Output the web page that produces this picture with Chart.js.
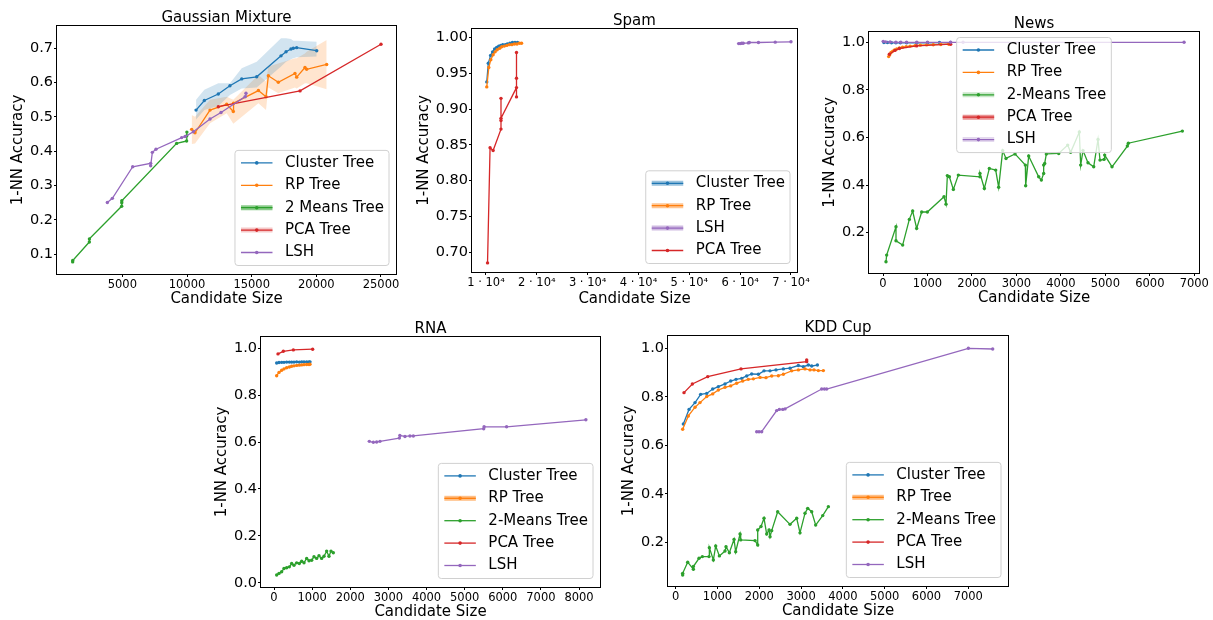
<!DOCTYPE html>
<html>
<head>
<meta charset="utf-8">
<title>1-NN accuracy vs candidate size</title>
<script src="https://cdn.jsdelivr.net/npm/chart.js@4.4.1/dist/chart.umd.min.js"></script>
<style>
  html, body { margin: 0; padding: 0; background: #fff; overflow: hidden; }
  #fig { position: relative; width: 1213px; height: 620px; }
  #fig canvas { position: absolute; }
</style>
</head>
<body>
<div id="fig"></div>
<script>
// ---- values ----

// Gaussian Mixture
const gmCluster = [[10700,0.520],[11340,0.548],[12420,0.567],[13320,0.591],[14230,0.611],[15390,0.617],[17270,0.678],[17660,0.690],[18040,0.698],[18220,0.700],[18480,0.702],[20030,0.693]];
const gmClusterHi = [[10700,0.550],[11340,0.579],[12420,0.598],[13320,0.598],[14230,0.642],[15390,0.661],[17270,0.729],[17660,0.729],[18040,0.727],[18220,0.722],[18480,0.722],[20030,0.719]];
const gmClusterLo = [[10700,0.493],[11340,0.520],[12420,0.532],[13320,0.564],[14230,0.583],[15390,0.586],[17270,0.647],[17660,0.661],[18040,0.668],[18220,0.671],[18480,0.674],[20030,0.676]];
const gmRP = [[10360,0.464],[10620,0.454],[11780,0.520],[13070,0.537],[13580,0.516],[13600,0.540],[15520,0.577],[16110,0.559],[16290,0.620],[17060,0.601],[18350,0.627],[18480,0.616],[19120,0.644],[19250,0.639],[20800,0.653]];
const gmRPHi = [[10360,0.506],[10620,0.501],[11780,0.550],[13070,0.559],[13580,0.550],[15520,0.622],[16110,0.603],[16290,0.647],[17060,0.656],[18350,0.671],[18480,0.671],[19120,0.685],[19250,0.690],[20800,0.724]];
const gmRPLo = [[10360,0.421],[10620,0.423],[11780,0.482],[13070,0.511],[13580,0.480],[15520,0.540],[16110,0.520],[16290,0.586],[17060,0.569],[18350,0.586],[18480,0.583],[19120,0.598],[19250,0.598],[20800,0.581]];
const gmTwoMeans = [[1160,0.078],[1165,0.082],[2450,0.136],[2455,0.145],[4950,0.240],[4955,0.250],[4960,0.256],[9200,0.423],[9970,0.430],[9980,0.445],[9990,0.456]];
const gmPCA = [[12420,0.530],[18740,0.576],[25000,0.712]];
const gmLSH = [[3840,0.251],[4230,0.263],[5800,0.355],[7190,0.365],[7190,0.358],[7320,0.397],[7600,0.406],[9590,0.440],[9850,0.443],[10490,0.457],[11780,0.494],[12630,0.513],[14490,0.559],[14560,0.569]];
const gmXTicks = [5000, 10000, 15000, 20000, 25000];
const gmXLabels = ['5000', '10000', '15000', '20000', '25000'];
const gmYTicks = [0.1, 0.2, 0.3, 0.4, 0.5, 0.6, 0.7];
const gmYLabels = ['0.1', '0.2', '0.3', '0.4', '0.5', '0.6', '0.7'];

// Spam
const spamCluster = [[10150,0.938],[10450,0.964],[10900,0.975],[11300,0.980],[11700,0.984],[12100,0.986],[12500,0.988],[12900,0.989],[13300,0.990],[13800,0.990],[14200,0.991],[14700,0.992],[15200,0.993],[15700,0.993],[16200,0.993]];
const spamRP = [[10150,0.931],[10550,0.958],[10950,0.969],[11400,0.976],[11800,0.980],[12200,0.983],[12700,0.985],[13100,0.987],[13600,0.988],[14100,0.989],[14600,0.990],[15100,0.990],[15600,0.991],[16100,0.991],[16600,0.992],[17000,0.992]];
const spamLSH = [[59700,0.9915],[60000,0.9915],[60300,0.992],[60600,0.992],[61600,0.9925],[61800,0.993],[63600,0.993],[66900,0.9935],[70000,0.994]];
const spamPCA = [[10300,0.685],[10800,0.846],[11400,0.842],[12950,0.872],[12950,0.884],[12950,0.915],[12950,0.887],[16000,0.930],[16000,0.917],[16000,0.943],[16000,0.979]];
const spamXTicks = [10000, 20000, 30000, 40000, 50000, 60000, 70000];
const spamXLabels = ['1 · 10⁴', '2 · 10⁴', '3 · 10⁴', '4 · 10⁴', '5 · 10⁴', '6 · 10⁴', '7 · 10⁴'];
const spamYTicks = [0.70, 0.75, 0.80, 0.85, 0.90, 0.95, 1.00];
const spamYLabels = ['0.70', '0.75', '0.80', '0.85', '0.90', '0.95', '1.00'];

// News
const newsCluster = [[20,0.999],[100,0.999],[190,0.998],[290,0.998],[390,0.998],[530,0.998],[760,0.998],[1000,0.998],[1270,0.999],[1520,0.999]];
const newsRP = [[127,0.940],[150,0.948],[180,0.957],[220,0.963],[260,0.968],[310,0.972],[370,0.976],[440,0.979],[520,0.982],[610,0.984],[720,0.986],[840,0.988],[980,0.989],[1130,0.990],[1300,0.991],[1480,0.992]];
const newsTwoMeans = [[67,0.078],[82,0.106],[292,0.225],[292,0.166],[442,0.148],[592,0.256],[667,0.291],[757,0.218],[870,0.287],[997,0.287],[1372,0.351],[1417,0.320],[1447,0.440],[1492,0.435],[1582,0.382],[1694,0.442],[2181,0.435],[2181,0.449],[2279,0.386],[2391,0.470],[2534,0.463],[2601,0.391],[2691,0.545],[2766,0.512],[2969,0.531],[3201,0.484],[3208,0.397],[3276,0.522],[3501,0.435],[3561,0.421],[3613,0.449],[3613,0.484],[3636,0.491],[3673,0.531],[3951,0.533],[4153,0.568],[4220,0.538],[4415,0.623],[4445,0.484],[4498,0.545],[4610,0.494],[4738,0.477],[4835,0.592],[4880,0.505],[4970,0.508],[4985,0.526],[5150,0.477],[5495,0.564],[5517,0.576],[6732,0.627]];
const newsPCA = [[142,0.950],[270,0.966],[367,0.974],[757,0.985],[1522,0.992]];
const newsLSH = [[5,1.004],[60,1.002],[160,1.001],[290,1.000],[400,1.000],[530,1.000],[760,1.000],[1000,1.000],[1520,1.000],[1800,1.000],[6770,1.000]];
const newsXTicks = [0, 1000, 2000, 3000, 4000, 5000, 6000, 7000];
const newsXLabels = ['0', '1000', '2000', '3000', '4000', '5000', '6000', '7000'];
const newsYTicks = [0.2, 0.4, 0.6, 0.8, 1.0];
const newsYLabels = ['0.2', '0.4', '0.6', '0.8', '1.0'];

// RNA
const rnaCluster = [[70,0.937],[131,0.939],[201,0.940],[262,0.940],[332,0.941],[402,0.941],[463,0.941],[524,0.941],[594,0.942],[664,0.941],[726,0.942],[787,0.942],[857,0.942],[918,0.942],[944,0.942]];
const rnaRP = [[70,0.883],[131,0.897],[201,0.906],[262,0.912],[332,0.917],[402,0.920],[463,0.923],[524,0.925],[594,0.927],[664,0.928],[726,0.929],[787,0.930],[857,0.931],[918,0.931],[944,0.932]];
const rnaTwoMeans = [[70,0.033],[131,0.040],[201,0.047],[262,0.061],[332,0.064],[402,0.068],[463,0.082],[524,0.075],[594,0.085],[664,0.082],[726,0.092],[787,0.085],[857,0.104],[918,0.094],[988,0.096],[1049,0.111],[1119,0.104],[1180,0.115],[1250,0.104],[1311,0.113],[1381,0.135],[1442,0.113],[1495,0.135],[1556,0.128]];
const rnaPCA = [[105,0.976],[245,0.987],[507,0.993],[1014,0.996]];
const rnaLSH = [[2500,0.603],[2605,0.599],[2692,0.600],[2780,0.603],[3287,0.617],[3300,0.628],[3435,0.624],[3566,0.626],[3654,0.626],[5500,0.657],[5510,0.665],[6100,0.665],[8180,0.695]];
const rnaXTicks = [0, 1000, 2000, 3000, 4000, 5000, 6000, 7000, 8000];
const rnaXLabels = ['0', '1000', '2000', '3000', '4000', '5000', '6000', '7000', '8000'];
const rnaYTicks = [0.0, 0.2, 0.4, 0.6, 0.8, 1.0];
const rnaYLabels = ['0.0', '0.2', '0.4', '0.6', '0.8', '1.0'];

// KDD Cup
const kddCluster = [[183,0.688],[319,0.748],[463,0.776],[598,0.810],[742,0.814],[885,0.832],[1021,0.842],[1180,0.853],[1316,0.865],[1443,0.872],[1579,0.876],[1699,0.886],[1818,0.894],[1978,0.893],[2113,0.907],[2257,0.907],[2400,0.911],[2576,0.915],[2735,0.918],[2935,0.929],[3054,0.924],[3174,0.931],[3254,0.927],[3390,0.931]];
const kddRP = [[167,0.666],[303,0.721],[463,0.757],[582,0.776],[742,0.801],[885,0.812],[1021,0.828],[1180,0.839],[1316,0.845],[1459,0.856],[1603,0.865],[1738,0.872],[1858,0.874],[2018,0.880],[2161,0.879],[2297,0.886],[2456,0.887],[2576,0.893],[2775,0.907],[2935,0.911],[3094,0.915],[3214,0.911],[3309,0.911],[3413,0.908],[3533,0.908]];
const kddTwoMeans = [[167,0.065],[167,0.072],[287,0.118],[423,0.089],[423,0.100],[558,0.134],[638,0.141],[797,0.141],[805,0.178],[901,0.127],[957,0.185],[1045,0.144],[1180,0.164],[1204,0.182],[1284,0.157],[1396,0.212],[1435,0.161],[1539,0.234],[1555,0.210],[1898,0.207],[1962,0.189],[1962,0.251],[2041,0.265],[2113,0.299],[2177,0.234],[2233,0.251],[2257,0.223],[2297,0.248],[2440,0.326],[2735,0.274],[2895,0.299],[2974,0.239],[3094,0.320],[3158,0.340],[3254,0.326],[3349,0.271],[3517,0.310],[3652,0.347]];
const kddPCA = [[199,0.817],[399,0.853],[766,0.883],[1563,0.915],[3134,0.945],[3134,0.952]];
const kddLSH = [[1938,0.656],[1994,0.656],[2057,0.656],[2416,0.743],[2480,0.748],[2560,0.748],[2616,0.750],[3493,0.832],[3557,0.832],[3612,0.832],[7002,1.000],[7584,0.997]];
const kddXTicks = [0, 1000, 2000, 3000, 4000, 5000, 6000, 7000];
const kddXLabels = ['0', '1000', '2000', '3000', '4000', '5000', '6000', '7000'];
const kddYTicks = [0.2, 0.4, 0.6, 0.8, 1.0];
const kddYLabels = ['0.2', '0.4', '0.6', '0.8', '1.0'];

// ---- drawing ----
const BLUE = '#1f77b4', ORANGE = '#ff7f0e', GREEN = '#2ca02c', RED = '#d62728', PURPLE = '#9467bd';
const FONT = "'DejaVu Sans', sans-serif";
const YW = 60, PT = 26, XH = 48, PR = 30;

Chart.defaults.font.family = FONT;
Chart.defaults.color = '#000';

function rgba(hex, a) {
  const n = parseInt(hex.slice(1), 16);
  return `rgba(${n >> 16}, ${(n >> 8) & 255}, ${n & 255}, ${a})`;
}

// frame, title and boxed legend like matplotlib
function panelPlugin(p) {
  return {
    id: 'panelDeco',
    afterDatasetsDraw(chart) {
      const { ctx, chartArea: ca } = chart;
      ctx.save();
      ctx.strokeStyle = '#000';
      ctx.lineWidth = 1;
      ctx.strokeRect(Math.round(ca.left) - 0.5, Math.round(ca.top) - 0.5,
        Math.round(ca.right - ca.left) + 1, Math.round(ca.bottom - ca.top) + 1);
      ctx.restore();
    },
    afterDraw(chart) {
      const { ctx, chartArea: ca } = chart;
      ctx.save();
      // title
      ctx.font = `15px ${FONT}`;
      ctx.fillStyle = '#000';
      ctx.textAlign = 'center';
      ctx.textBaseline = 'alphabetic';
      ctx.fillText(p.title, (ca.left + ca.right) / 2, ca.top - 4.5);

      // legend
      const items = p.series;
      const tw = Math.max(...items.map(s => ctx.measureText(s.label).width));
      const w = 6 + 31.5 + 12.5 + tw + 5;
      const h = 12.5 + (items.length - 1) * 22.4 + 13;
      let x, y;
      if (p.legendLoc === 'upper center') {
        x = (ca.left + ca.right) / 2 - w / 2;
        y = ca.top + 5.5;
      } else {
        x = ca.right - 7 - w;
        y = ca.bottom - 8.5 - h;
      }
      const r = 3;
      ctx.beginPath();
      ctx.moveTo(x + r, y);
      ctx.lineTo(x + w - r, y);
      ctx.arcTo(x + w, y, x + w, y + r, r);
      ctx.lineTo(x + w, y + h - r);
      ctx.arcTo(x + w, y + h, x + w - r, y + h, r);
      ctx.lineTo(x + r, y + h);
      ctx.arcTo(x, y + h, x, y + h - r, r);
      ctx.lineTo(x, y + r);
      ctx.arcTo(x, y, x + r, y, r);
      ctx.closePath();
      ctx.fillStyle = 'rgba(255,255,255,0.8)';
      ctx.fill();
      ctx.strokeStyle = '#d0d0d0';
      ctx.lineWidth = 1;
      ctx.stroke();

      items.forEach((s, i) => {
        const yy = y + 12.5 + i * 22.4;
        const x0 = x + 6, x1 = x + 37.5;
        if (s.halo) {
          ctx.strokeStyle = rgba(s.color, s.halo);
          ctx.lineWidth = 5;
          ctx.beginPath(); ctx.moveTo(x0, yy); ctx.lineTo(x1, yy); ctx.stroke();
        }
        ctx.strokeStyle = s.color;
        ctx.lineWidth = 1.3;
        ctx.beginPath(); ctx.moveTo(x0, yy); ctx.lineTo(x1, yy); ctx.stroke();
        ctx.fillStyle = s.color;
        ctx.beginPath(); ctx.arc((x0 + x1) / 2, yy, 1.8, 0, Math.PI * 2); ctx.fill();
        ctx.fillStyle = '#000';
        ctx.textAlign = 'left';
        ctx.textBaseline = 'middle';
        ctx.fillText(s.label, x + 50, yy);
      });
      ctx.restore();
    }
  };
}

function buildPanel(p) {
  const [L, T, R, B] = p.box;
  const w = (R - L) + YW + PR;
  const h = (B - T) + PT + XH;
  const cv = document.createElement('canvas');
  cv.width = w; cv.height = h;
  cv.style.left = (L - YW) + 'px';
  cv.style.top = (T - PT) + 'px';
  cv.style.width = w + 'px';
  cv.style.height = h + 'px';
  document.getElementById('fig').appendChild(cv);

  const datasets = [];
  (p.bands || []).forEach(b => {
    datasets.push({ data: b.hi, borderColor: 'rgba(0,0,0,0)', borderWidth: 0, pointRadius: 0,
      backgroundColor: rgba(b.color, 0.2), fill: '+1', order: 40 });
    datasets.push({ data: b.lo, borderColor: 'rgba(0,0,0,0)', borderWidth: 0, pointRadius: 0,
      fill: false, order: 40 });
  });
  p.series.forEach((s, i) => {
    datasets.push({
      label: s.label, data: s.data,
      borderColor: s.color, backgroundColor: s.color, borderWidth: 1.3,
      pointRadius: 1.7, pointHoverRadius: 1.7, pointBorderWidth: 0,
      pointBackgroundColor: s.color, pointBorderColor: s.color,
      fill: false, tension: 0, order: 20 - i
    });
  });

  new Chart(cv, {
    type: 'line',
    data: { datasets },
    options: {
      responsive: false,
      animation: false,
      events: [],
      devicePixelRatio: 1,
      layout: { padding: { top: PT, right: PR, left: 0, bottom: 0 } },
      plugins: { legend: { display: false }, tooltip: { enabled: false } },
      scales: {
        x: {
          type: 'linear', min: p.xRange[0], max: p.xRange[1],
          afterBuildTicks: sc => { sc.ticks = p.xTicks.map(v => ({ value: v })); },
          afterFit: sc => { sc.height = XH; },
          ticks: { autoSkip: false, maxRotation: 0, color: '#000', font: { size: 11.5 }, padding: 1,
            callback: (v, i) => p.xLabels[i] },
          grid: { drawOnChartArea: false, drawTicks: true, tickLength: 3, tickColor: '#000', tickWidth: 1 },
          border: { display: false },
          title: { display: true, text: 'Candidate Size', color: '#000', font: { size: 15 },
            padding: { top: 0, bottom: p.xtPad } }
        },
        y: {
          type: 'linear', min: p.yRange[0], max: p.yRange[1],
          afterBuildTicks: sc => { sc.ticks = p.yTicks.map(v => ({ value: v })); },
          afterFit: sc => { sc.width = YW; },
          ticks: { autoSkip: false, color: '#000', font: { size: 14.5 }, padding: 1,
            callback: (v, i) => p.yLabels[i] },
          grid: { drawOnChartArea: false, drawTicks: true, tickLength: 3, tickColor: '#000', tickWidth: 1 },
          border: { display: false },
          title: { display: true, text: '1-NN Accuracy', color: '#000', font: { size: 15 },
            padding: { top: p.ytPad, bottom: 0 } }
        }
      }
    },
    plugins: [panelPlugin(p)]
  });
}

const panels = [
  {
    title: 'Gaussian Mixture', box: [57, 26, 396, 274],
    xRange: [-52, 26160], yRange: [0.0427, 0.765],
    xTicks: gmXTicks, xLabels: gmXLabels, yTicks: gmYTicks, yLabels: gmYLabels,
    xtPad: 14, ytPad: 12, legendLoc: 'lower right',
    bands: [{ hi: gmClusterHi, lo: gmClusterLo, color: BLUE }, { hi: gmRPHi, lo: gmRPLo, color: ORANGE }],
    series: [
      { label: 'Cluster Tree', color: BLUE, data: gmCluster },
      { label: 'RP Tree', color: ORANGE, data: gmRP },
      { label: '2 Means Tree', color: GREEN, data: gmTwoMeans, halo: 0.55 },
      { label: 'PCA Tree', color: RED, data: gmPCA, halo: 0.25 },
      { label: 'LSH', color: PURPLE, data: gmLSH }
    ]
  },
  {
    title: 'Spam', box: [472, 29, 797, 272],
    xRange: [7246, 71184], yRange: [0.6723, 1.0119],
    xTicks: spamXTicks, xLabels: spamXLabels, yTicks: spamYTicks, yLabels: spamYLabels,
    xtPad: 12, ytPad: 3.5, legendLoc: 'lower right',
    series: [
      { label: 'Cluster Tree', color: BLUE, data: spamCluster, halo: 0.45 },
      { label: 'RP Tree', color: ORANGE, data: spamRP, halo: 0.45 },
      { label: 'LSH', color: PURPLE, data: spamLSH, halo: 0.45 },
      { label: 'PCA Tree', color: RED, data: spamPCA }
    ]
  },
  {
    title: 'News', box: [869, 32, 1199, 273],
    xRange: [-315, 7106], yRange: [0.0307, 1.0433],
    xTicks: newsXTicks, xLabels: newsXLabels, yTicks: newsYTicks, yLabels: newsYLabels,
    xtPad: 14, ytPad: 12, legendLoc: 'upper center',
    series: [
      { label: 'Cluster Tree', color: BLUE, data: newsCluster },
      { label: 'RP Tree', color: ORANGE, data: newsRP },
      { label: '2-Means Tree', color: GREEN, data: newsTwoMeans, halo: 0.25 },
      { label: 'PCA Tree', color: RED, data: newsPCA, halo: 0.5 },
      { label: 'LSH', color: PURPLE, data: newsLSH, halo: 0.25 }
    ]
  },
  {
    title: 'RNA', box: [261, 337, 600, 587],
    xRange: [-341, 8550], yRange: [-0.018, 1.048],
    xTicks: rnaXTicks, xLabels: rnaXLabels, yTicks: rnaYTicks, yLabels: rnaYLabels,
    xtPad: 14, ytPad: 12, legendLoc: 'lower right',
    series: [
      { label: 'Cluster Tree', color: BLUE, data: rnaCluster },
      { label: 'RP Tree', color: ORANGE, data: rnaRP, halo: 0.5 },
      { label: '2-Means Tree', color: GREEN, data: rnaTwoMeans },
      { label: 'PCA Tree', color: RED, data: rnaPCA },
      { label: 'LSH', color: PURPLE, data: rnaLSH }
    ]
  },
  {
    title: 'KDD Cup', box: [668, 336, 1008, 586],
    xRange: [-184, 7950], yRange: [0.0198, 1.0507],
    xTicks: kddXTicks, xLabels: kddXLabels, yTicks: kddYTicks, yLabels: kddYLabels,
    xtPad: 14, ytPad: 12, legendLoc: 'lower right',
    series: [
      { label: 'Cluster Tree', color: BLUE, data: kddCluster },
      { label: 'RP Tree', color: ORANGE, data: kddRP, halo: 0.5 },
      { label: '2-Means Tree', color: GREEN, data: kddTwoMeans },
      { label: 'PCA Tree', color: RED, data: kddPCA },
      { label: 'LSH', color: PURPLE, data: kddLSH }
    ]
  }
];

panels.forEach(buildPanel);
</script>
</body>
</html>
